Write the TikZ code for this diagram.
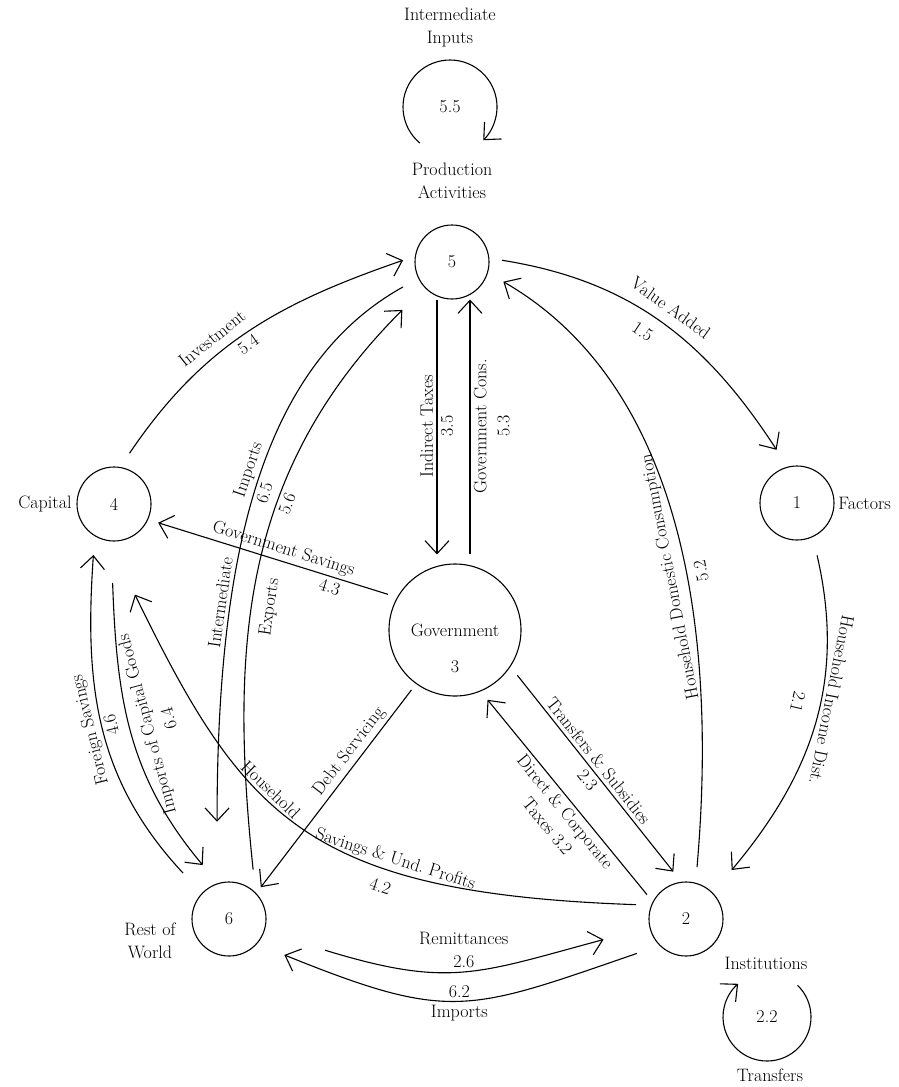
\documentclass[tikz,border=0pt]{standalone}
\usetikzlibrary{arrows.meta, positioning}

\begin{document}
\begin{tikzpicture}[
    x=1pt, y=-1pt,
    ->,
    >={Straight Barb[length=13pt, width=24pt]},
    line width=1.1pt,
    font=\fontsize{18}{23}\selectfont,
    acct/.style={circle, draw, minimum size=74pt, inner sep=0pt},
]
    \useasboundingbox (0,0) rectangle (899,1087);

    % accounts
    \node[acct] (five)  at (452,262) {5};
    \node[acct] (one)   at (797,503) {1};
    \node[acct] (four)  at (114,504) {4};
    \node[acct, minimum size=132pt] (three) at (455,630) {Government};
    \node[acct] (six)   at (229,919) {6};
    \node[acct] (two)   at (686,919) {2};

    \node (threenum) at (455,667) {3};
    \node (capital) [left=1pt of four] {Capital};
    \node (factors) [right=0pt of one] {Factors};
    \node[align=center] (row)   at (150,941) {Rest of\\World};
    \node               (inst)  at (766,963) {Institutions};
    \node[align=center] (prod)  at (452,181) {Production\\Activities};
    \node[align=center] (intin) at (450,28)  {Intermediate\\Inputs};
    \node               (trf)   at (770,1075) {Transfers};

    % own transactions
    \coordinate (ii) at (450,107);
    \coordinate (tt) at (767,1017);
    \node (fivefive) at (ii) {5.5};
    \node (twotwo)   at (tt) {2.2};
    \draw ([shift={(230:47pt)}]ii) arc[start angle=230, end angle=-45, radius=47pt];
    \draw ([shift={(46:44pt)}]tt) arc[start angle=46, end angle=-229, radius=44pt];

    \path
        % production
        ([shift={(73:53pt)}]four.center) edge[out=56, in=199]
            node[pos=.4, sloped, above, inner sep=9pt] (invl) {Investment}
            node[pos=.48, sloped, below, inner sep=4pt] (invn) {5.4}
            ([shift={(178:49pt)}]five.center)
        ([shift={(2:50pt)}]five.center) edge[out=-9, in=123]
            node[pos=.5, sloped, above, inner sep=10pt] (val) {Value Added}
            node[pos=.47, sloped, below, inner sep=12pt] (valn) {1.5}
            ([shift={(111:57pt)}]one.center)
        ([shift={(78:53pt)}]two.center) edge[out=85, in=-30, in looseness=.85]
            node[pos=.42, sloped, allow upside down, above, inner sep=8pt] (hdc) {Household Domestic Consumption}
            node[pos=.42, sloped, allow upside down, below, inner sep=8pt] (hdcn) {5.2}
            ([shift={(-21:55pt)}]five.center)
        ([shift={(-69:56pt)}]one.center) edge[out=-77, in=50]
            node[pos=.42, sloped, allow upside down, above] (hid) {Household Income Dist.}
            node[pos=.45, sloped, allow upside down, below, inner sep=16pt] (hidn) {2.1}
            ([shift={(47:67pt)}]two.center)
        % government
        ([xshift=-15pt]five.south) edge[shorten >=9pt]
            node[pos=.48, rotate=90, above] (itx) {Indirect Taxes}
            node[pos=.48, rotate=90, below] (itxn) {3.5}
            ([xshift=-18pt]three.north)
        ([xshift=15pt]three.north) edge[shorten <=9pt]
            node[pos=.52, rotate=90, below, align=center] (gcons) {Government Cons.\\5.3}
            ([xshift=18pt]five.south)
        ([shift={(-36:77pt)}]three.center) edge
            node[pos=.47, sloped, above] (tsub) {Transfers \& Subsidies}
            node[pos=.5, sloped, below] (tsubn) {2.3}
            ([shift={(105:49pt)}]two.center)
        ([shift={(148:46pt)}]two.center) edge
            node[pos=.46, sloped, below, align=center] (dct) {Direct \& Corporate\\Taxes 3.2}
            ([shift={(-65:77pt)}]three.center)
        ([shift={(152:76pt)}]three.center) edge
            node[pos=.47, sloped, above] (gsav) {Government Savings}
            node[pos=.24, sloped, below] (gsavn) {4.3}
            ([shift={(-23:48pt)}]four.center)
        ([shift={(-126:74pt)}]three.center) edge
            node[pos=.35, sloped, above] (debt) {Debt Servicing}
            ([shift={(45:45pt)}]six.center)
        % rest of world
        ([shift={(207:55pt)}]five.center) edge[out=209, in=90, out looseness=.76, in looseness=1.14]
            node[pos=.47, sloped, above] (imp) {Imports}
            node[pos=.5, sloped, below] (impn) {6.5}
            node[pos=.69, sloped, above] (intm) {Intermediate}
            ([shift={(97:98pt)}]six.center)
        ([shift={(64:55pt)}]six.center) edge[out=96, in=225]
            node[pos=.43, sloped, below, inner sep=10pt] (exp) {Exports}
            node[pos=.62, sloped, below] (expn) {5.6}
            ([shift={(224:69pt)}]five.center)
        ([shift={(135:65pt)}]six.center) edge[out=133, in=-94]
            node[pos=.5, sloped, allow upside down, above, inner sep=3pt] (fsav) {Foreign Savings}
            node[pos=.5, sloped, allow upside down, below, inner sep=3pt] (fsavn) {4.6}
            ([shift={(-112:55pt)}]four.center)
        ([shift={(116:60pt)}]six.center) edge[<-, out=130, in=-88]
            node[pos=.52, sloped, allow upside down, below, align=center, inner sep=10pt] (icg) {Imports of Capital Goods\\6.4}
            ([shift={(-91:79pt)}]four.center)
        ([shift={(164:52pt)}]two.center) edge[out=178, in=-64, out looseness=1.43, in looseness=1.08]
            node[pos=.6, sloped, above] (hsa) {Household}
            node[pos=.32, sloped, above] (hsb) {Savings \& Und.\ Profits}
            node[pos=.33, sloped, below, inner sep=11pt] (hsn) {4.2}
            ([shift={(-77:93pt)}]four.center)
        ([shift={(-18:101pt)}]six.center) edge[out=-17, in=195, looseness=1.2]
            node[pos=.5, above, align=center] (rem) {Remittances\\2.6}
            ([shift={(194:85pt)}]two.center)
        ([shift={(-145:60pt)}]two.center) edge[out=199, in=-22, looseness=1.3]
            node[pos=.5, above] (impb) {6.2}
            node[pos=.5, below] (impbl) {Imports}
            ([shift={(-33:66pt)}]six.center)
    ;
\end{tikzpicture}
\end{document}
